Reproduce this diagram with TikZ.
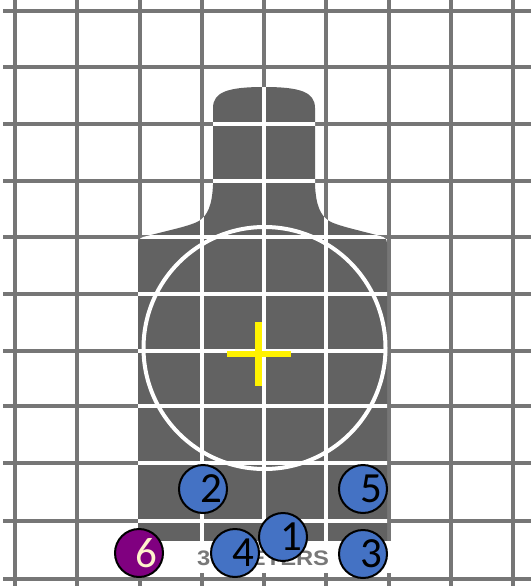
\documentclass[tikz,border=0pt]{standalone}
\usepackage{fontspec}
\newfontfamily\shotfont{Carlito}
\newfontfamily\labfont{Liberation Sans}
\definecolor{gridgray}{RGB}{118,118,118}
\definecolor{bodygray}{RGB}{98,98,98}
\definecolor{shotblue}{RGB}{68,114,196}
\definecolor{shotpurple}{RGB}{128,0,128}
\definecolor{numcream}{RGB}{255,242,204}
\definecolor{labgray}{RGB}{120,120,120}
\begin{document}
\begin{tikzpicture}[x=1pt,y=-1pt,
  gridline/.style={draw=gridgray, line width=4pt},
  whiteline/.style={draw=white, line width=4pt},
  shot/.style={circle, draw=black, line width=2pt, fill=shotblue, minimum size=48pt, inner sep=0pt},
  purpleshot/.style={shot, fill=shotpurple},
  num/.style={font=\shotfont\fontsize{43}{43}\selectfont, inner sep=0pt, text=black},
  lightnum/.style={num, text=numcream}]
\useasboundingbox (0,0) rectangle (531,586);
\fill[white] (0,0) rectangle (531,586);
% grid
\begin{scope}
\clip (0,0) rectangle (531,586);
\foreach \y in {11,67,124,181,237,294,351,406,463,521,579}
  \draw[gridline] (3,\y) -- (531,\y);
\foreach \x in {15,77.25,139.5,201.75,264,326.25,388.5,450.75,513}
  \draw[gridline] (\x,0) -- (\x,586);
\end{scope}
% silhouette
\fill[bodygray] (138,541) -- (138,244) .. controls (138,239) and (141,237) .. (147,236)
  .. controls (170,230) and (190,226) .. (199,221)
  .. controls (208,215) and (212,205) .. (213,185) -- (213,108)
  .. controls (213,92) and (228,87) .. (264,87)
  .. controls (300,87) and (315,92) .. (315,108) -- (315,185)
  .. controls (316,205) and (320,215) .. (329,221)
  .. controls (338,226) and (358,230) .. (380,236)
  .. controls (385,237) and (387,239) .. (387,244) -- (387,541) -- cycle;
\begin{scope}
\clip (138,541) -- (138,244) .. controls (138,239) and (141,237) .. (147,236)
  .. controls (170,230) and (190,226) .. (199,221)
  .. controls (208,215) and (212,205) .. (213,185) -- (213,108)
  .. controls (213,92) and (228,87) .. (264,87)
  .. controls (300,87) and (315,92) .. (315,108) -- (315,185)
  .. controls (316,205) and (320,215) .. (329,221)
  .. controls (338,226) and (358,230) .. (380,236)
  .. controls (385,237) and (387,239) .. (387,244) -- (387,541) -- cycle;
\foreach \y in {124,181,237,294,351,406,463,521}
  \draw[whiteline] (130,\y) -- (395,\y);
\foreach \x in {201.75,264,326.25}
  \draw[whiteline] (\x,80) -- (\x,545);
\end{scope}
\draw[white, line width=4pt] (264.5,348) circle[radius=121];
% label strip
\fill[white] (133,541) rectangle (392,573);
\node[anchor=base west, inner sep=0pt, text=labgray, font=\labfont\bfseries\fontsize{21}{21}\selectfont] (lab) at (197,565) {\scalebox{1.13}[1]{30 METERS}};
% aim cross
\fill[yellow] (227,351) rectangle (291,357);
\fill[yellow] (255,322) rectangle (262,386);
% shots
\node[shot] (s1) at (283,537) {};
\node[num] (n1) at ([xshift=8pt]s1.center) {1};
\node[shot] (s2) at (203,489) {};
\node[num] (n2) at ([xshift=8pt]s2.center) {2};
\node[shot] (s3) at (363,554) {};
\node[num] (n3) at ([xshift=8pt]s3.center) {3};
\node[shot] (s4) at (235,553) {};
\node[num] (n4) at ([xshift=8pt]s4.center) {4};
\node[shot] (s5) at (363,489) {};
\node[num] (n5) at ([xshift=8pt]s5.center) {5};
\node[purpleshot] (s6) at (139,553) {};
\node[lightnum] (n6) at ([xshift=7pt]s6.center) {6};
\end{tikzpicture}
\end{document}
